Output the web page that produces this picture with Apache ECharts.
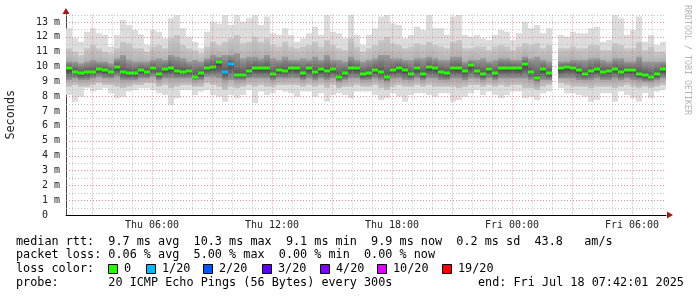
<!DOCTYPE html>
<html><head><meta charset="utf-8">
<script src="https://cdn.jsdelivr.net/npm/echarts@6/dist/echarts.min.js"></script>
<style>html,body{margin:0;padding:0;background:#fff}#c{width:697px;height:297px}</style>
</head><body><div id="c"></div>
<script>
// ---- time base: hours since Thu 00:00 ----
const startHour = 1 + 42/60 + 1/3600;   // Thu 01:42:01
const stepHours = 0.3;                  // 18 min per sample column

// ---- axis ticks ----
const xTickHours  = [6, 12, 18, 24, 30];
const xTickLabels = ['Thu 06:00', 'Thu 12:00', 'Thu 18:00', 'Fri 00:00', 'Fri 06:00'];
const yTicks = [0,1,2,3,4,5,6,7,8,9,10,11,12,13];

// ---- median rtt (ms) ----
const median = [9.9,9.65,9.54,9.61,9.65,9.83,9.76,9.61,9.99,9.61,
  9.54,9.54,9.76,9.65,9.92,9.5,9.83,9.88,9.7,9.65,
  9.7,9.31,9.54,9.92,9.99,10.3,9.6,10.2,9.45,9.43,
  9.7,9.92,9.88,9.88,9.5,9.76,9.7,9.92,9.88,9.54,
  9.88,9.61,9.81,9.7,9.81,9.31,9.54,9.92,9.88,9.47,
  9.54,9.76,9.65,9.31,9.76,9.88,9.76,9.5,9.88,9.47,
  9.95,9.88,9.65,9.54,9.88,9.88,9.7,10.1,9.7,9.47,
  9.83,9.54,9.92,9.88,9.92,9.88,10.2,9.65,9.2,9.83,
  9.54,null,9.88,9.99,9.92,9.76,9.5,9.7,9.83,9.65,
  9.7,9.83,9.65,9.76,9.76,9.47,9.43,9.31,9.47,9.83];
// pings lost out of 20
const loss = [0,0,0,0,0,0,0,0,0,0, 0,0,0,0,0,0,0,0,0,0,
  0,0,0,0,0,0,1,1,0,0, 0,0,0,0,0,0,0,0,0,0,
  0,0,0,0,0,0,0,0,0,0, 0,0,0,0,0,0,0,0,0,0,
  0,0,0,0,0,0,0,0,0,0, 0,0,0,0,0,0,0,0,0,0,
  0,0,0,0,0,0,0,0,0,0, 0,0,0,0,0,0,0,0,0,0];
// smoke: slowest ping (max), upper quartile-ish, upper inner
const smokeMax = [12.57,11.9,11.67,12.34,12.57,12.23,12.12,11.34,12.12,13.13,
  12.79,12.46,12.12,11.45,12.46,12.34,11.9,13.24,13.47,12.57,
  12.01,11.67,11.22,12.34,13.02,12.9,13.47,12.79,13.47,13.02,
  13.24,13.47,12.79,13.36,12.23,12.12,12.57,12.12,11.67,11.9,
  12.23,12.68,12.12,13.47,12.34,12.23,11.9,13.47,12.12,11.45,
  12.12,12.57,13.36,13.47,12.9,12.79,11.9,12.12,12.68,12.46,
  13.47,12.57,12.57,12.12,13.36,13.47,12.12,12.01,12.12,11.9,
  11.78,12.12,12.46,12.34,11.78,12.23,13.02,12.57,12.79,12.23,
  12.57,null,12.12,12.01,12.34,12.23,12.23,12.57,12.68,11.67,
  11.78,13.47,13.24,12.12,12.46,13.36,11.67,12.12,11.45,11.67];
const smokeHi2 = [11.22,11.0,10.78,11.22,11.45,11.22,11.0,10.89,11.22,11.67,
  11.56,11.22,11.22,11.0,11.34,11.45,11.22,11.9,12.12,11.45,
  11.22,11.11,10.89,11.34,11.67,11.45,11.67,11.9,12.12,11.56,
  11.67,12.01,11.67,11.9,11.45,11.34,11.67,11.34,11.22,11.34,
  11.45,11.67,11.34,11.78,11.45,11.22,11.11,11.9,11.34,11.0,
  11.22,11.45,11.78,12.01,11.56,11.45,11.22,11.34,11.56,11.45,
  11.67,11.45,11.34,11.22,11.67,11.78,11.22,11.22,11.34,11.34,
  11.11,11.34,11.45,11.34,11.11,11.34,11.56,11.45,11.56,11.22,
  11.45,null,11.22,11.22,11.34,11.22,11.22,11.45,11.45,11.11,
  11.11,11.56,11.45,11.22,11.22,11.67,11.11,11.34,11.0,11.0];
const smokeHi3 = [10.33,10.33,10.21,10.33,10.44,10.33,10.33,10.21,10.55,10.78,
  10.44,10.33,10.33,10.33,10.44,10.55,10.44,10.78,10.66,10.55,
  10.33,10.44,10.33,10.55,10.78,10.66,10.78,10.78,10.89,10.55,
  10.66,10.66,10.55,10.78,10.55,10.44,10.66,10.44,10.44,10.55,
  10.44,10.66,10.44,10.78,10.44,10.44,10.33,10.66,10.44,10.33,
  10.44,10.55,10.78,10.78,10.55,10.55,10.44,10.44,10.55,10.55,
  10.66,10.55,10.44,10.44,10.66,10.66,10.33,10.44,10.44,10.55,
  10.33,10.44,10.55,10.55,10.44,10.44,10.66,10.55,10.66,10.44,
  10.33,null,10.33,10.33,10.44,10.44,10.44,10.55,10.55,10.44,
  10.33,10.55,10.55,10.33,10.33,10.66,10.33,10.33,10.33,10.33];
// smoke: lower inner, lower quartile-ish, fastest ping (min)
const smokeLo3 = [9.09,9.2,9.09,9.09,9.2,9.31,9.2,9.2,9.31,9.09,
  9.09,9.09,9.2,9.2,9.31,9.09,9.2,9.2,9.2,9.2,
  9.2,9.09,9.09,9.31,9.31,9.2,9.09,9.09,9.09,9.09,
  9.2,9.2,9.2,9.2,9.09,9.2,9.2,9.2,9.2,9.09,
  9.2,9.09,9.2,9.09,9.2,8.98,9.09,9.2,9.2,9.09,
  9.09,9.2,9.09,8.98,9.2,9.2,9.09,9.09,9.2,9.09,
  9.2,9.2,9.09,9.09,9.2,9.2,9.09,9.2,9.2,9.09,
  9.2,9.09,9.2,9.2,9.2,9.2,9.2,9.09,8.98,9.09,
  9.09,null,9.2,9.2,9.2,9.09,9.09,9.09,9.2,9.09,
  9.09,9.2,9.09,9.2,9.09,9.09,8.98,8.98,9.09,9.2];
const smokeLo2 = [8.64,8.75,8.64,8.64,8.75,8.87,8.75,8.75,8.64,8.53,
  8.64,8.75,8.75,8.87,8.87,8.64,8.75,8.53,8.64,8.75,
  8.75,8.64,8.64,8.87,8.75,8.64,8.42,8.64,8.53,8.64,
  8.75,8.64,8.75,8.64,8.64,8.75,8.75,8.75,8.75,8.64,
  8.75,8.64,8.75,8.53,8.75,8.53,8.64,8.64,8.75,8.64,
  8.64,8.75,8.53,8.42,8.64,8.75,8.64,8.64,8.75,8.64,
  8.75,8.64,8.64,8.64,8.64,8.53,8.64,8.75,8.75,8.64,
  8.75,8.64,8.75,8.64,8.75,8.75,8.53,8.53,8.42,8.64,
  8.75,null,8.87,8.75,8.64,8.64,8.64,8.53,8.64,8.64,
  8.64,8.53,8.64,8.75,8.64,8.53,8.64,8.53,8.64,8.75];
const smokeMin = [8.08,7.63,7.97,8.53,8.31,8.42,8.53,8.2,7.86,7.97,
  8.31,8.42,8.53,8.53,8.42,8.2,8.08,7.41,7.86,8.42,
  8.42,8.08,8.31,8.42,8.08,7.97,7.63,8.08,7.86,8.08,
  8.42,7.52,8.31,8.08,8.2,8.42,8.31,8.2,7.97,8.31,
  8.31,7.97,8.2,7.63,8.08,8.2,8.08,7.86,8.31,8.31,
  8.31,8.08,7.74,7.86,8.2,7.97,7.63,8.08,8.2,8.2,
  8.08,7.97,8.2,8.2,7.63,7.74,7.97,8.2,8.42,8.08,
  8.31,8.08,7.86,8.08,8.31,8.31,7.86,7.97,7.74,8.2,
  8.31,null,8.53,8.2,8.2,8.08,7.97,7.63,7.74,8.2,
  8.2,7.63,8.31,8.08,7.86,7.63,8.2,7.86,8.31,8.42];

// ---- loss colour legend ----
const lossLevels = [0, 1, 2, 3, 4, 10, 19];
const lossColors = ['#26ff00','#00b8ff','#0059ff','#5e00ff','#7e00ff','#dd00ff','#ff0000'];
const lossLabels = ['0','1/20','2/20','3/20','4/20','10/20','19/20'];

// ---- summary text ----
const statLine1 = 'median rtt:  9.7 ms avg  10.3 ms max  9.1 ms min  9.9 ms now  0.2 ms sd  43.8   am/s';
const statLine2 = 'packet loss: 0.06 % avg  5.00 % max  0.00 % min  0.00 % now';
const probeLine = 'probe:       20 ICMP Echo Pings (56 Bytes) every 300s';
const endLine   = 'end: Fri Jul 18 07:42:01 2025';
const sideText  = 'RRDTOOL / TOBI OETIKER';

function lossColor(n){ let c = lossColors[0]; for (let i=0;i<lossLevels.length;i++) if (n >= lossLevels[i]) c = lossColors[i]; return c; }

const endHour = startHour + median.length * stepHours;
const rows = [];
for (let i = 0; i < median.length; i++) {
  if (median[i] == null) continue;
  rows.push([startHour + i*stepHours, startHour + (i+1)*stepHours,
    smokeMin[i], smokeLo2[i], smokeLo3[i], median[i], smokeHi3[i], smokeHi2[i], smokeMax[i], loss[i]]);
}
const vLines = [];
for (let h = Math.ceil(startHour); h < endHour; h++) vLines.push([h, 0, h % 3 === 0 ? 1 : 0]);
const hLines = [];
for (let k = 1; k <= 27; k++) hLines.push([startHour, k/2, k % 2 === 0 ? 1 : 0]);

const FONT = 'DejaVu Sans Mono';
const TXT = '11.8px ' + FONT;
const MAJOR = 'rgba(220,110,110,0.75)';
const MINOR = 'rgba(170,170,170,0.7)';

function grad(c0, c1){ return new echarts.graphic.LinearGradient(0,0,0,1,[{offset:0,color:c0},{offset:1,color:c1}]); }

function renderSmoke(params, api){
  const t0 = api.value(0), t1 = api.value(1);
  const x0 = api.coord([t0, 0])[0], x1 = api.coord([t1, 0])[0];
  const w = x1 - x0;
  const Y = v => api.coord([t0, v])[1];
  const lo1=api.value(2), lo2=api.value(3), lo3=api.value(4), med=api.value(5), hi3=api.value(6), hi2=api.value(7), hi1=api.value(8);
  const band = (lo, hi, fill) => ({type:'rect', shape:{x:x0, y:Y(hi), width:w, height:Y(lo)-Y(hi)}, style:{fill:fill}});
  const ym = Math.round(Y(med));
  return {type:'group', children:[
    band(lo1, hi1, '#dcdcdc'),
    band(med, hi2, grad('#c8c8c8', '#a0a0a0')),
    band(lo2, med, grad('#858585', '#c4c4c4')),
    band(med, hi3, grad('#9c9c9c', '#555555')),
    band(lo3, med, grad('#3c3c3c', '#969696')),
    {type:'rect', shape:{x:x0, y:ym-1.5, width:w, height:3}, style:{fill: lossColor(api.value(9))}}
  ]};
}
function renderV(params, api){
  const cs = params.coordSys;
  const x = Math.round(api.coord([api.value(0), 0])[0]) + 0.5;
  return {type:'line', shape:{x1:x, y1:cs.y, x2:x, y2:cs.y+cs.height}, style:{stroke: api.value(2) ? MAJOR : MINOR, lineWidth:1, lineDash:[1,2]}};
}
function renderH(params, api){
  const cs = params.coordSys;
  const y = Math.round(api.coord([api.value(0), api.value(1)])[1]) + 0.5;
  return {type:'line', shape:{x1:cs.x, y1:y, x2:cs.x+cs.width, y2:y}, style:{stroke: api.value(2) ? MAJOR : MINOR, lineWidth:1, lineDash:[1,2]}};
}

const graphics = [
  {type:'polygon', shape:{points:[[66,8],[62.5,14],[69.5,14]]}, style:{fill:'#a01818'}},
  {type:'polygon', shape:{points:[[673,215],[667,211.5],[667,218.5]]}, style:{fill:'#a01818'}},
  {type:'text', x:16, y:241.5, style:{text:statLine1, font:TXT, fill:'#000', verticalAlign:'middle'}},
  {type:'text', x:16, y:255.2, style:{text:statLine2, font:TXT, fill:'#000', verticalAlign:'middle'}},
  {type:'text', x:16, y:269, style:{text:'loss color:', font:TXT, fill:'#000', verticalAlign:'middle'}},
  {type:'text', x:16, y:282.7, style:{text:probeLine, font:TXT, fill:'#000', verticalAlign:'middle'}},
  {type:'text', x:478, y:282.7, style:{text:endLine, font:TXT, fill:'#000', verticalAlign:'middle'}},
  {type:'text', x:687, y:5, rotation:-Math.PI/2, style:{text:sideText, font:'8.3px ' + FONT, fill:'#b4b4b4', verticalAlign:'middle'}}
];
const swatchX = [108, 146, 203, 262, 320, 377, 442];
lossLabels.forEach((lab, i) => {
  graphics.push({type:'rect', shape:{x:swatchX[i]+0.5, y:264.5, width:9, height:9}, style:{fill:lossColors[i], stroke:'#000', lineWidth:1}});
  graphics.push({type:'text', x:swatchX[i]+16, y:269, style:{text:lab, font:TXT, fill:'#000', verticalAlign:'middle'}});
});

const chart = echarts.init(document.getElementById('c'), null, {renderer:'canvas'});
chart.setOption({
  animation:false,
  backgroundColor:'#ffffff',
  grid:{left:66, top:14.5, width:600, height:200.5, containLabel:false, outerBoundsMode:'none'},
  xAxis:{type:'value', min:startHour, max:endHour,
    axisLine:{show:true, lineStyle:{color:'#000', width:1}},
    axisTick:{show:false}, splitLine:{show:false},
    axisLabel:{customValues:xTickHours, formatter:v => xTickLabels[xTickHours.indexOf(v)] || '',
      fontFamily:FONT, fontSize:10, color:'#222', margin:5}},
  yAxis:{type:'value', min:0, max:13.5,
    name:'Seconds', nameLocation:'middle', nameGap:49, nameRotate:90,
    nameTextStyle:{fontFamily:FONT, fontSize:11.8, color:'#222'},
    axisLine:{show:true, lineStyle:{color:'#444', width:1}},
    axisTick:{show:false}, splitLine:{show:false},
    axisLabel:{customValues:yTicks, formatter:v => v === 0 ? '0  ' : v + ' m',
      fontFamily:FONT, fontSize:10, color:'#222', margin:6}},
  series:[
    {type:'custom', name:'smoke', renderItem:renderSmoke, data:rows, encode:{x:[0,1], y:[2,5,8]}, clip:true, z:2, silent:true},
    {type:'custom', name:'vgrid', renderItem:renderV, data:vLines, encode:{x:0, y:1}, z:3, silent:true},
    {type:'custom', name:'hgrid', renderItem:renderH, data:hLines, encode:{x:0, y:1}, z:3, silent:true}
  ],
  graphic:graphics
});
</script>
</body></html>
